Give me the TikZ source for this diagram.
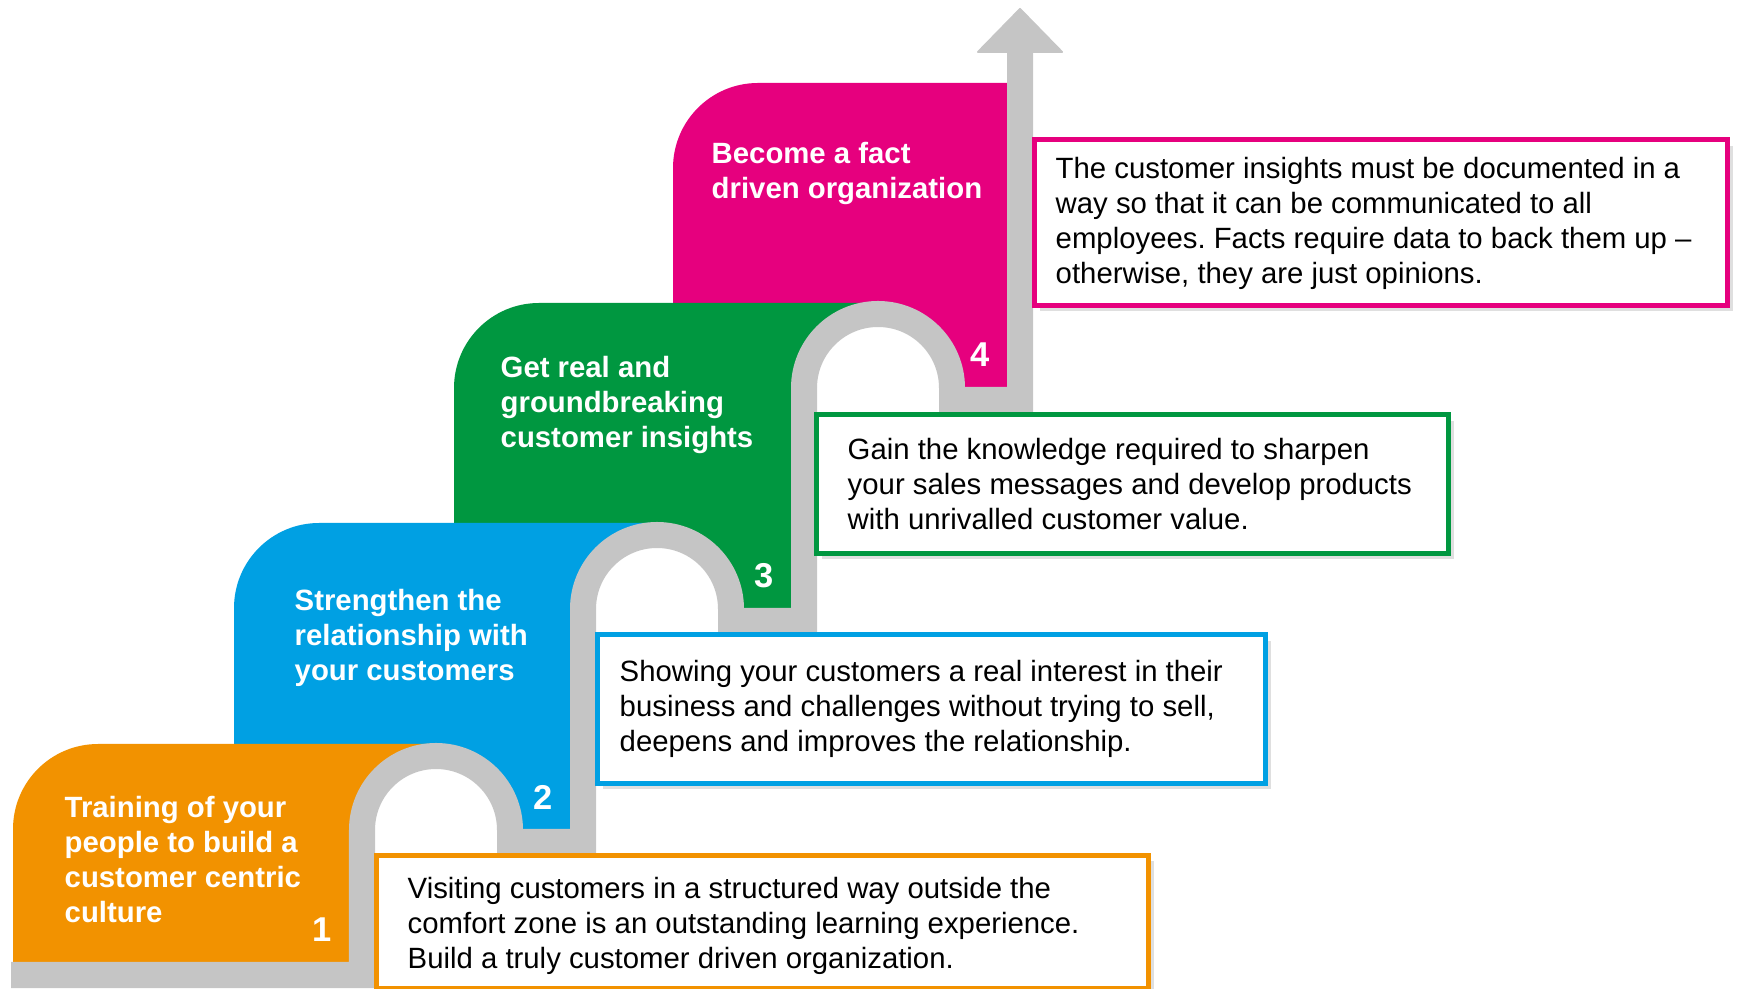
\documentclass[tikz,border=0pt]{standalone}
\usepackage{fontspec}
\setmainfont{Liberation Sans}
\usetikzlibrary{shadows}
\frenchspacing

\definecolor{steporange}{RGB}{242,146,0}
\definecolor{stepblue}{RGB}{0,160,227}
\definecolor{stepgreen}{RGB}{0,151,64}
\definecolor{steppink}{RGB}{230,0,126}
\definecolor{pathgray}{RGB}{197,197,197}

\begin{document}
\begin{tikzpicture}[x=0.01cm, y=0.01cm,
    title/.style={text=white, font=\bfseries\fontsize{8.34}{9.96}\selectfont, align=left, inner sep=0pt, anchor=north west},
    stepno/.style={text=white, font=\bfseries\fontsize{9.8}{11}\selectfont, inner sep=0pt, anchor=base east},
    infobox/.style={draw=#1, line width=0.05cm, fill=white, anchor=north west,
      drop shadow={shadow xshift=0.06cm, shadow yshift=-0.06cm, opacity=0.25}},
    info/.style={font=\fontsize{8.34}{9.96}\selectfont, align=left, inner sep=0pt, anchor=west}]
    \useasboundingbox (0,0) rectangle (1737,988);

    % the four steps, top one first so each lower step lies over it
    \fill[steppink] (673,600) -- (673,820) arc[start angle=180, end angle=90, radius=85] -- (1007,905) -- (1007,600) -- cycle;
    \fill[stepgreen] (454,379) -- (454,600) arc[start angle=180, end angle=90, radius=85] -- (878,685) -- (878,600) -- (791,600) -- (791,379) -- cycle;
    \fill[stepblue] (234,158) -- (234,380) arc[start angle=180, end angle=90, radius=85] -- (657,465) -- (657,379) -- (570,379) -- (570,158) -- cycle;
    \fill[steporange] (13,20) -- (13,159) arc[start angle=180, end angle=90, radius=85] -- (436,244) -- (436,158) -- (349,158) -- (349,20) -- cycle;

    % hollow under each bend
    \foreach \cx/\cy in {436/158, 657/379, 878/600}
      \fill[white] (\cx-74,\cy) arc[start angle=180, end angle=0, radius=74] -- cycle;

    % grey road up the stairs
    \draw[pathgray, line width=0.26cm] (11,13) -- (362,13) -- (362,158) arc[start angle=180, end angle=0, radius=74]
      -- (510,146) -- (583,146) -- (583,379) arc[start angle=180, end angle=0, radius=74]
      -- (731,367) -- (804,367) -- (804,600) arc[start angle=180, end angle=0, radius=74]
      -- (952,588) -- (1020,588) -- (1020,940);
    \filldraw[pathgray, line width=0.02cm, line join=round] (978,936) -- (1020,979) -- (1062,936) -- cycle;

    \node (title1) [title] at (64,192.5) {Training of your\\people to build a\\customer centric\\culture};
    \node (title2) [title] at (294,399.5) {Strengthen the\\relationship with\\your customers};
    \node (title3) [title] at (500,632.5) {Get real and\\groundbreaking\\customer insights};
    \node (title4) [title] at (711,846.5) {Become a fact\\driven organization};

    \node (no1) [stepno] at (332,47) {1};
    \node (no2) [stepno] at (553,179) {2};
    \node (no3) [stepno] at (774,400) {3};
    \node (no4) [stepno] at (990,621) {4};

    % explanation boxes
    \node (box1) [infobox=steporange, minimum width=7.72cm, minimum height=1.33cm] at (373.5,135.5) {};
    \node (box2) [infobox=stepblue, minimum width=6.68cm, minimum height=1.48cm] at (594.5,355.5) {};
    \node (box3) [infobox=stepgreen, minimum width=6.32cm, minimum height=1.38cm] at (813.5,575.5) {};
    \node (box4) [infobox=steppink, minimum width=6.93cm, minimum height=1.65cm] at (1031.5,850.5) {};

    \node (txt1) [info] at ([xshift=0.335cm, yshift=-0.04cm]box1.west) {Visiting customers in a structured way outside the\\comfort zone is an outstanding learning experience.\\Build a truly customer driven organization.};
    \node (txt2) [info] at ([xshift=0.245cm]box2.west) {Showing your customers a real interest in their\\business and challenges without trying to sell,\\deepens and improves the relationship.};
    \node (txt3) [info] at ([xshift=0.335cm]box3.west) {Gain the knowledge required to sharpen\\your sales messages and develop products\\with unrivalled customer value.};
    \node (txt4) [info] at ([xshift=0.235cm, yshift=-0.01cm]box4.west) {The customer insights must be documented in a\\way so that it can be communicated to all\\employees. Facts require data to back them up –\\otherwise, they are just opinions.};
\end{tikzpicture}
\end{document}
